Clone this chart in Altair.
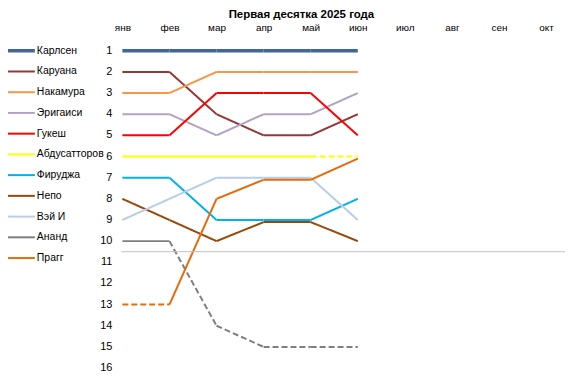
import altair as alt
import pandas as pd

# ---------------- data ----------------
months = ["янв", "фев", "мар", "апр", "май", "июн", "июл", "авг", "сен", "окт"]
names = ["Карлсен", "Каруана", "Накамура", "Эригаиси", "Гукеш", "Абдусатторов",
         "Фируджа", "Непо", "Вэй И", "Ананд", "Прагг"]
colors = ["#416795", "#953735", "#F79646", "#B3A2C7", "#FF0000", "#FFFF00",
          "#00B0F0", "#984807", "#B9CDE5", "#7F7F7F", "#E46C0A"]
widths = [3.5, 2, 2, 2, 2, 2, 2, 2, 2, 2, 2]

carlsen = [1, 1, 1, 1, 1, 1]
caruana = [2, 2, 4, 5, 5, 4]
nakamura = [3, 3, 2, 2, 2, 2]
erigaisi = [4, 4, 5, 4, 4, 3]
gukesh = [5, 5, 3, 3, 3, 5]
abdusattorov = [6, 6, 6, 6, 6, 6]
firouzja = [7, 7, 9, 9, 9, 8]
nepo = [8, 9, 10, 9.1, 9.1, 10]
wei_yi = [9, 8, 7, 7, 7, 9]
anand = [10, 10, 14, 15, 15, 15]
pragg = [13, 13, 8, 7.1, 7.1, 6.1]
series = [carlsen, caruana, nakamura, erigaisi, gukesh, abdusattorov,
          firouzja, nepo, wei_yi, anand, pragg]

# segments (index of start month) drawn dashed
dashed_segments = {"Абдусатторов": [4], "Ананд": [1, 2, 3, 4], "Прагг": [0]}

rank_ticks = list(range(1, 17))
cutoff = 10.5
title_text = "Первая десятка 2025 года"

# ---------------- tables ----------------
rows = []
for name, vals, w in zip(names, series, widths):
    for i in range(len(vals) - 1):
        style = "dashed" if i in dashed_segments.get(name, []) else "solid"
        seg = f"{name}-{i}"
        for j in (i, i + 1):
            rows.append({"name": name, "month": months[j], "mi": j,
                         "rank": vals[j], "seg": seg, "style": style, "w": w})
seg_df = pd.DataFrame(rows)

legend_df = pd.DataFrame({"name": names, "w": widths,
                          "row": [1 + k * 0.98 for k in range(len(names))]})
ticks_df = pd.DataFrame({"r": rank_ticks})

FONT = "Liberation Sans"
W, H = 560, 365

x_scale = alt.Scale(type="point", domain=months, range=[115, 541], padding=0)
y_scale = alt.Scale(domain=[1, 16], range=[42, 361], zero=False, nice=False)
color_scale = alt.Scale(domain=names, range=colors)

lines = alt.Chart(seg_df).mark_line(strokeCap="butt").encode(
    x=alt.X("month:O", scale=x_scale, sort=months, title=None,
            axis=alt.Axis(orient="top", offset=-19, domain=False, ticks=False,
                          grid=False, labelPadding=0, labelBaseline="middle",
                          labelAngle=0, labelFont=FONT, labelFontSize=10,
                          labelColor="#000000")),
    y=alt.Y("rank:Q", scale=y_scale, title=None, axis=None),
    color=alt.Color("name:N", scale=color_scale, legend=None),
    strokeWidth=alt.StrokeWidth("w:Q", scale=None, legend=None),
    strokeDash=alt.StrokeDash("style:N",
                              scale=alt.Scale(domain=["solid", "dashed"],
                                              range=[[1, 0], [6, 3]]),
                              legend=None),
    detail="seg:N",
    order="mi:Q",
)

cut = alt.Chart(pd.DataFrame({"v": [cutoff]})).mark_rule(
    color="#BFBFBF", strokeWidth=1).encode(
    y=alt.Y("v:Q", scale=y_scale, axis=None),
    x=alt.value(114), x2=alt.value(W))

rank_labels = alt.Chart(ticks_df).mark_text(
    align="right", baseline="middle", font=FONT, fontSize=11,
    color="#000000").encode(
    y=alt.Y("r:Q", scale=y_scale, axis=None),
    x=alt.value(105),
    text=alt.Text("r:Q", format="d"))

leg_lines = alt.Chart(legend_df).mark_rule().encode(
    y=alt.Y("row:Q", scale=y_scale, axis=None),
    x=alt.value(0), x2=alt.value(27),
    color=alt.Color("name:N", scale=color_scale, legend=None),
    strokeWidth=alt.StrokeWidth("w:Q", scale=None, legend=None),
)

leg_text = alt.Chart(legend_df).mark_text(
    align="left", baseline="middle", font=FONT, fontSize=10.5,
    color="#000000").encode(
    y=alt.Y("row:Q", scale=y_scale, axis=None),
    x=alt.value(29),
    text="name:N")

title = alt.Chart(pd.DataFrame({"t": [title_text]})).mark_text(
    align="center", baseline="top", font=FONT, fontSize=11.5,
    fontWeight="bold", color="#000000").encode(
    x=alt.value(295), y=alt.value(0), text="t:N")

chart = alt.layer(lines, cut, rank_labels, leg_lines, leg_text, title).properties(
    width=W, height=H, padding=0,
    autosize=alt.AutoSizeParams(type="none"),
    background="#FFFFFF",
).configure_view(stroke=None)

chart.save("out.html", embed_options={"renderer": "svg", "actions": False})
